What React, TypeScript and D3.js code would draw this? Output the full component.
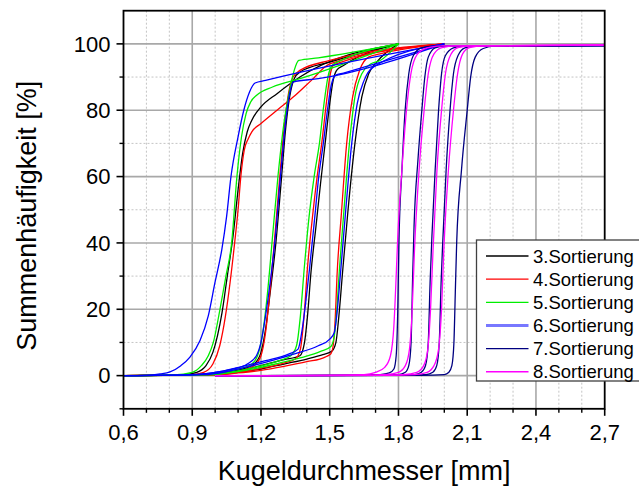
import React from "react";
import * as d3 from "d3";

// Kugeldurchmesser [mm] vs. Summenhäufigkeit [%]; each Sortierung holds several fractions
type Pt = [number, number];

const sort3: Pt[][] = [
  [[0.6,0],[0.85,0.2],[0.92,1],[0.96,3],[0.99,7],[1.01,12],[1.03,19],[1.053,30],[1.078,42],[1.1,56],[1.12,67],[1.14,73.5],[1.16,77],[1.2,81],[1.27,85],[1.37,90],[1.8,100]],
  [[0.6,0],[0.95,0.3],[1.05,1],[1.12,2],[1.17,3.5],[1.2,7],[1.22,14],[1.24,25],[1.265,40],[1.29,60],[1.307,74],[1.325,84],[1.345,89.5],[1.37,91.5],[1.5,94.5],[1.8,100]],
  [[0.6,0],[1.0,0.5],[1.1,1.5],[1.2,3],[1.3,4.8],[1.37,6],[1.39,10],[1.403,18],[1.418,31],[1.44,45],[1.46,58],[1.48,70],[1.5,82],[1.515,89],[1.53,92],[1.56,93.5],[1.8,100]],
  [[0.6,0],[1.0,0.3],[1.1,1],[1.2,2],[1.3,3.5],[1.4,5],[1.47,6.3],[1.51,7.4],[1.527,10],[1.54,18],[1.557,32],[1.58,50],[1.61,70],[1.64,84],[1.67,91],[1.705,94.5],[1.8,100]],
];

const sort4: Pt[][] = [
  [[0.6,0],[0.88,0.2],[0.95,1],[0.99,3.5],[1.02,9],[1.045,18],[1.065,28],[1.085,40],[1.1,50],[1.112,60],[1.127,68],[1.145,71.5],[1.16,73.5],[1.2,76],[1.27,80],[1.35,84.5],[1.42,89],[1.5,94],[2.0,100]],
  [[0.6,0],[0.95,0.2],[1.05,0.8],[1.12,1.6],[1.17,3],[1.2,6],[1.22,13],[1.24,26],[1.258,40],[1.282,60],[1.3,74],[1.32,85],[1.34,90],[1.37,92],[1.5,95],[2.0,100]],
  [[0.6,0],[1.0,0.3],[1.1,1],[1.2,2.2],[1.3,3.8],[1.35,5],[1.372,8],[1.388,18],[1.402,31.7],[1.425,48],[1.445,60],[1.465,70],[1.485,82],[1.5,90],[1.515,93.5],[1.55,94.5],[2.0,100]],
  [[0.6,0],[1.0,0.2],[1.1,0.8],[1.2,1.6],[1.3,2.8],[1.4,4.2],[1.48,5.6],[1.505,6.6],[1.515,9],[1.523,16],[1.533,31.7],[1.55,48],[1.574,70],[1.6,84],[1.63,92],[1.669,96],[1.72,97],[2.0,100]],
];

const sort5: Pt[][] = [
  [[0.6,0],[0.82,0.2],[0.9,1],[0.94,3],[0.97,6],[0.992,10],[1.021,20],[1.047,30],[1.072,40],[1.095,60],[1.115,72],[1.135,79],[1.155,82.5],[1.181,84.5],[1.25,87],[1.37,89.5],[1.8,100]],
  [[0.6,0],[0.93,0.3],[1.03,1],[1.1,2],[1.16,3.5],[1.19,7],[1.21,14],[1.23,26],[1.248,40],[1.274,60],[1.3,76],[1.325,86],[1.345,92],[1.365,95],[1.45,95.8],[1.8,100]],
  [[0.6,0],[0.98,0.3],[1.08,1.2],[1.18,2.6],[1.28,4.5],[1.33,6],[1.355,9],[1.372,18],[1.388,31.7],[1.41,48],[1.432,60],[1.455,70],[1.475,82],[1.492,90],[1.51,93.5],[1.55,95],[1.8,100]],
  [[0.6,0],[0.98,0.3],[1.08,1],[1.18,2.2],[1.28,3.8],[1.38,5.5],[1.46,7.3],[1.505,8.8],[1.52,12],[1.531,20],[1.542,31.7],[1.56,48],[1.586,70],[1.61,84],[1.64,91],[1.68,94],[1.72,95],[1.8,100]],
];

const sort6: Pt[][] = [
  [[0.6,0],[0.7,0.1],[0.76,0.5],[0.803,1.1],[0.85,3],[0.89,5.6],[0.934,10.6],[0.97,18],[0.999,28],[1.029,38],[1.05,48],[1.069,60],[1.1,72],[1.125,80],[1.15,85.5],[1.174,88.2],[1.22,89],[2.0,100]],
  [[0.6,0],[0.9,0.3],[1.0,1],[1.08,2],[1.14,3.5],[1.18,6],[1.2,10],[1.22,18],[1.24,28],[1.26,40],[1.285,60],[1.305,75],[1.325,85],[1.34,88.5],[1.45,89.5],[2.0,100]],
  [[0.6,0],[0.92,0.3],[1.02,1.2],[1.12,2.8],[1.22,4.5],[1.32,6.5],[1.362,8],[1.38,14],[1.395,22],[1.411,31.7],[1.435,48],[1.452,60],[1.472,70],[1.49,80],[1.505,87],[1.525,90.5],[1.56,91.2],[2.0,100]],
  [[0.6,0],[0.95,0.3],[1.05,1.2],[1.15,2.8],[1.25,4.6],[1.35,6.6],[1.45,9],[1.5,11],[1.52,13],[1.532,19],[1.548,31.7],[1.57,50],[1.596,70],[1.62,82],[1.65,89],[1.69,93],[2.0,100]],
];

const sort7: Pt[][] = [
  [[1.0,0],[1.6,0.05],[1.72,0.3],[1.76,0.8],[1.78,2],[1.79,6],[1.797,20],[1.802,40],[1.815,62],[1.829,80],[1.845,91],[1.865,96.5],[1.9,98.8],[1.95,99.3],[2.7,99.5]],
  [[1.0,0],[1.7,0.05],[1.8,0.3],[1.83,1],[1.845,3],[1.855,10],[1.862,30],[1.868,45],[1.885,65],[1.902,80],[1.915,90],[1.93,96],[1.96,98.8],[2.0,99.3],[2.7,99.5]],
  [[1.0,0],[1.75,0.05],[1.87,0.3],[1.9,1],[1.918,3],[1.93,10],[1.938,28],[1.946,42],[1.96,62],[1.975,80],[1.988,91],[2.005,96.5],[2.04,98.8],[2.08,99.3],[2.7,99.5]],
  [[1.0,0],[1.8,0.05],[1.92,0.3],[1.95,1],[1.967,3],[1.978,10],[1.986,28],[1.993,40],[2.008,62],[2.025,80],[2.04,91],[2.06,96.5],[2.09,98.8],[2.13,99.3],[2.7,99.5]],
  [[1.0,0],[1.9,0.05],[2.0,0.3],[2.02,1],[2.033,3],[2.042,10],[2.048,25],[2.054,40],[2.075,62],[2.1,80],[2.115,90],[2.135,96],[2.17,98.6],[2.22,99.3],[2.7,99.5]],
];

const sort8: Pt[][] = [
  [[1.0,0],[1.5,0.05],[1.65,0.3],[1.7,1],[1.74,2.5],[1.765,6],[1.78,15],[1.79,30],[1.797,42],[1.815,62],[1.835,80],[1.86,93],[1.89,97.5],[1.94,99],[2.0,99.4],[2.7,99.6]],
  [[1.0,0],[1.6,0.05],[1.74,0.3],[1.8,1],[1.83,3],[1.848,8],[1.86,20],[1.87,38],[1.89,62],[1.912,80],[1.93,91],[1.955,97],[1.99,98.9],[2.05,99.4],[2.7,99.6]],
  [[1.0,0],[1.7,0.05],[1.82,0.3],[1.88,1],[1.91,3],[1.928,8],[1.94,20],[1.951,38],[1.968,62],[1.988,80],[2.005,91],[2.03,97],[2.06,98.9],[2.12,99.4],[2.7,99.6]],
  [[1.0,0],[1.75,0.05],[1.87,0.3],[1.925,1],[1.955,3],[1.975,8],[1.988,20],[1.998,38],[2.018,62],[2.04,80],[2.058,91],[2.08,97],[2.11,98.9],[2.17,99.4],[2.7,99.6]],
];

const seriesNames = ["3.Sortierung", "4.Sortierung", "5.Sortierung", "6.Sortierung", "7.Sortierung", "8.Sortierung"];
const seriesData = [sort3, sort4, sort5, sort6, sort7, sort8];
const seriesColors = ["#000000", "#ff0000", "#00ee00", "#0000ff", "#000080", "#ff00ff"];

const xTickValues = [0.6, 0.9, 1.2, 1.5, 1.8, 2.1, 2.4, 2.7];
const xTickLabels = ["0,6", "0,9", "1,2", "1,5", "1,8", "2,1", "2,4", "2,7"];
const yTickValues = [0, 20, 40, 60, 80, 100];
const yTickLabels = ["0", "20", "40", "60", "80", "100"];

const W = 639;
const H = 489;
const M = { left: 123.5, right: 604.7, top: 10.7, bottom: 408.8 };
const FONT = "'Liberation Sans', Arial, sans-serif";

export default function App() {
  const x = d3.scaleLinear().domain([0.6, 2.7]).range([M.left, M.right]);
  const y = d3.scaleLinear().domain([-10, 110]).range([M.bottom, M.top]);

  const xMinor = d3.range(7, 27).filter((i) => i % 3 !== 0).map((i) => i / 10);
  const yMinor = [-10, 10, 30, 50, 70, 90];

  const line = d3
    .line<Pt>()
    .x((d) => x(d[0]))
    .y((d) => y(d[1]))
    .curve(d3.curveMonotoneX);

  const legendX = 476.5;
  const legendY = 240;
  const rowH = 23.15;

  return (
    <svg
      width={W}
      height={H}
      style={{ position: "absolute", left: 0, top: 0, background: "#fff" }}
      fontFamily={FONT}
    >
      <defs>
        <clipPath id="plotClip">
          <rect x={M.left} y={M.top} width={M.right - M.left} height={M.bottom - M.top} />
        </clipPath>
      </defs>
      <rect x={0} y={0} width={W} height={H} fill="#fff" />

      {/* minor grid */}
      {xMinor.map((v) => (
        <line key={"xm" + v} x1={x(v)} x2={x(v)} y1={M.top} y2={M.bottom} stroke="#c4c4c4" strokeWidth={1} strokeDasharray="2,2" />
      ))}
      {yMinor.filter((v) => v > -10).map((v) => (
        <line key={"ym" + v} x1={M.left} x2={M.right} y1={y(v)} y2={y(v)} stroke="#c4c4c4" strokeWidth={1} strokeDasharray="2,2" />
      ))}
      {/* major grid */}
      {xTickValues.slice(1, -1).map((v) => (
        <line key={"xg" + v} x1={x(v)} x2={x(v)} y1={M.top} y2={M.bottom} stroke="#a8a8a8" strokeWidth={1.6} />
      ))}
      {yTickValues.map((v) => (
        <line key={"yg" + v} x1={M.left} x2={M.right} y1={y(v)} y2={y(v)} stroke="#a8a8a8" strokeWidth={1.6} />
      ))}

      {/* curves */}
      <g clipPath="url(#plotClip)" fill="none">
        {seriesData.map((curves, si) =>
          curves.map((c, ci) => (
            <path key={si + "-" + ci} d={line(c) || ""} stroke={seriesColors[si]} strokeWidth={1.3} />
          ))
        )}
      </g>

      {/* frame */}
      <rect x={M.left} y={M.top} width={M.right - M.left} height={M.bottom - M.top} fill="none" stroke="#000" strokeWidth={1.8} />

      {/* x axis ticks */}
      {xTickValues.map((v, i) => (
        <g key={"xt" + v}>
          <line x1={x(v)} x2={x(v)} y1={M.bottom} y2={M.bottom + 7} stroke="#000" strokeWidth={1.6} />
          <text x={x(v)} y={440} fontSize={22} textAnchor="middle" fill="#000">
            {xTickLabels[i]}
          </text>
        </g>
      ))}
      {xMinor.map((v) => (
        <line key={"xmt" + v} x1={x(v)} x2={x(v)} y1={M.bottom} y2={M.bottom + 4} stroke="#000" strokeWidth={1.4} />
      ))}

      {/* y axis ticks */}
      {yTickValues.map((v, i) => (
        <g key={"yt" + v}>
          <line x1={M.left - 7} x2={M.left} y1={y(v)} y2={y(v)} stroke="#000" strokeWidth={1.6} />
          <text x={110.5} y={y(v) + 7.8} fontSize={22} textAnchor="end" fill="#000">
            {yTickLabels[i]}
          </text>
        </g>
      ))}
      {yMinor.map((v) => (
        <line key={"ymt" + v} x1={M.left - 4} x2={M.left} y1={y(v)} y2={y(v)} stroke="#000" strokeWidth={1.4} />
      ))}

      {/* axis titles */}
      <text x={(M.left + M.right) / 2} y={480} fontSize={27} textAnchor="middle" fill="#000">
        Kugeldurchmesser [mm]
      </text>
      <text
        transform={`translate(36,${(M.top + M.bottom) / 2 + 6}) rotate(-90)`}
        fontSize={27}
        textAnchor="middle"
        fill="#000"
      >
        Summenhäufigkeit [%]
      </text>

      {/* legend */}
      <g>
        <rect x={legendX} y={legendY} width={200} height={141} fill="#fff" stroke="#404040" strokeWidth={1.3} />
        {seriesNames.map((name, i) => {
          const cy = 256 + i * rowH;
          const isSix = i === 3;
          return (
            <g key={name}>
              <line
                x1={486}
                x2={528.5}
                y1={cy}
                y2={cy}
                stroke={isSix ? "#7878ff" : seriesColors[i]}
                strokeWidth={isSix ? 3 : 1.3}
              />
              <text x={533} y={cy + 6.6} fontSize={18.5} fill="#000">
                {name}
              </text>
            </g>
          );
        })}
      </g>
    </svg>
  );
}
